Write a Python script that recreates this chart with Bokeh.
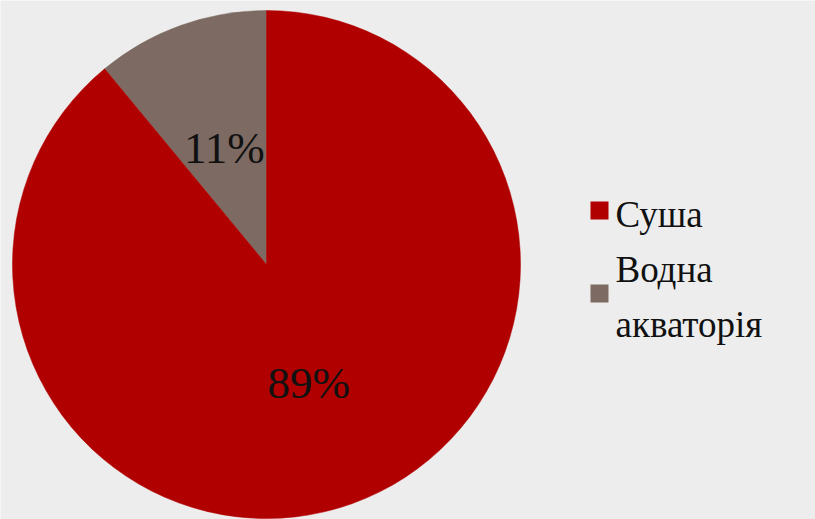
import numpy as np
from bokeh.plotting import figure
from bokeh.models import ColumnDataSource, Range1d, Label
from bokeh.embed import file_html
from bokeh.resources import INLINE

# ---- data ----
categories = ["Суша", "Водна акваторія"]
shares = [89, 11]
pct_labels = ["89%", "11%"]
colors = ["#B00000", "#7D6A62"]

W, H = 815, 519
BG = "#EDEDED"
FONT = "Liberation Serif"

cx, cy, R = 266, 255, 254

# wedges: start at 12 o'clock, going anticlockwise, last category first
order = list(reversed(range(len(categories))))
vals = np.array([shares[i] for i in order], dtype=float)
frac = vals / vals.sum()
ends = np.pi / 2 + 2 * np.pi * np.cumsum(frac)
starts = np.concatenate([[np.pi / 2], ends[:-1]])
mids = (starts + ends) / 2
lx = cx + 0.49 * R * np.cos(mids)
ly = cy + 0.49 * R * np.sin(mids) - 26

src = ColumnDataSource(dict(
    start=starts, end=ends,
    color=[colors[i] for i in order],
))

p = figure(width=W, height=H, output_backend="svg", toolbar_location=None,
           x_range=Range1d(0, W), y_range=Range1d(0, H),
           background_fill_color=BG, border_fill_color=BG,
           outline_line_color=None, min_border=0)
p.axis.visible = False
p.grid.visible = False

p.wedge(x=cx, y=cy, radius=R, start_angle="start", end_angle="end",
        fill_color="color", line_color="color", line_width=0.5, source=src)

for k, i in enumerate(order):
    p.add_layout(Label(x=lx[k], y=ly[k], text=pct_labels[i],
                       text_font=FONT, text_font_size="45px",
                       text_color="#111111", text_align="center",
                       text_baseline="bottom"))

# legend (manual)
leg_x = 599
sq_y = [309, 226]
line_y = [[285], [230, 175]]
p.scatter(x=[leg_x] * len(categories), y=sq_y, marker="square", size=18,
          fill_color=colors, line_color=None)
for c, ys in zip(categories, line_y):
    for word, yy in zip(c.split(" "), ys):
        p.add_layout(Label(x=leg_x + 16, y=yy, text=word,
                           text_font=FONT, text_font_size="37px",
                           text_color="#111111", text_align="left",
                           text_baseline="bottom"))

open("out.html", "w").write(file_html(p, INLINE))
